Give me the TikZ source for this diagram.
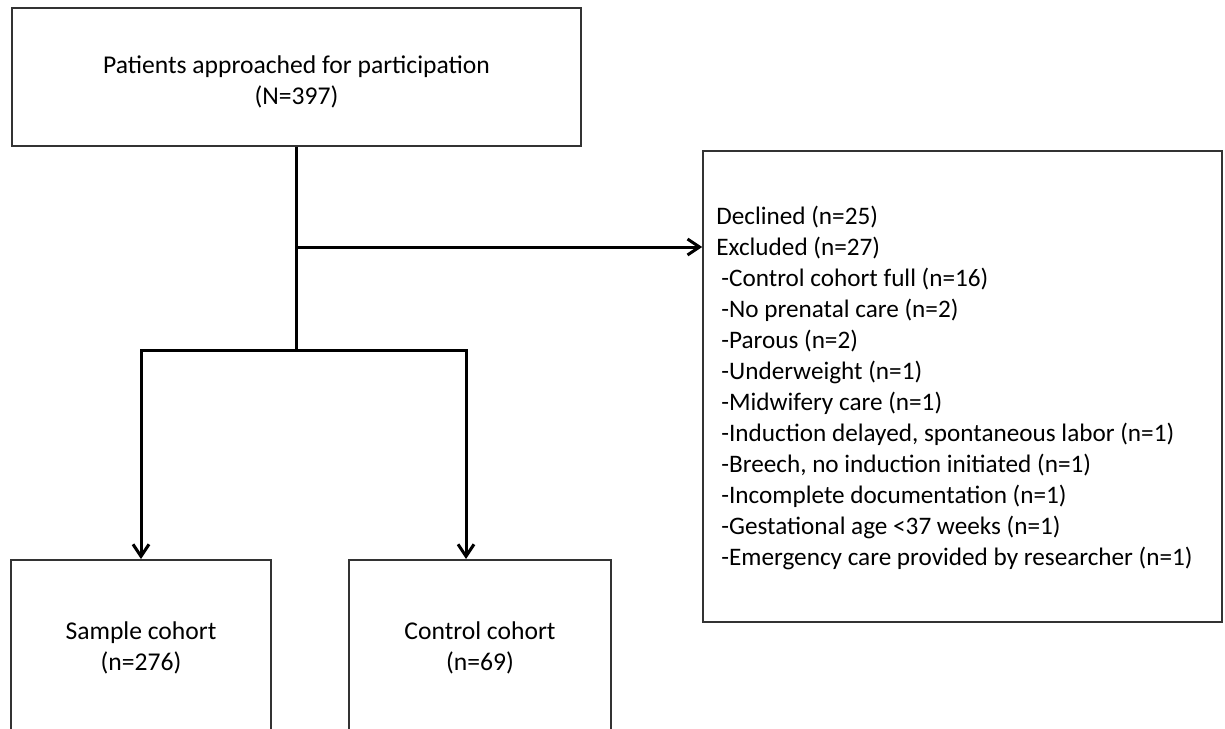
\documentclass[tikz,border=0pt]{standalone}
\usepackage{fontspec}
\setmainfont{Carlito}
\usetikzlibrary{arrows.meta,positioning,calc}
\tikzset{>={Straight Barb[length=6pt,width=8pt]}}
\tikzset{box/.style={draw=black!80, line width=0.8pt, inner sep=0pt}}
\tikzset{txt/.style={align=center, inner sep=0pt,
    font=\fontsize{12.8}{15.2}\selectfont}}
\tikzset{flow/.style={->, line width=1.5pt}}

\begin{document}
\begin{tikzpicture}[x=0.5pt,y=-0.5pt]
  \clip (0,0) rectangle (1225,728);
  % boxes
  \node[box, minimum width=284.5pt, minimum height=69pt] (approached)
    at (296.5,77) {};
  \node[box, minimum width=259.5pt, minimum height=235.5pt] (excluded)
    at (962.5,386.5) {};
  \node[box, minimum width=130pt, minimum height=89pt, anchor=north] (sample)
    at (141,559) {};
  \node[box, minimum width=131pt, minimum height=89pt, anchor=north] (control)
    at (480,559) {};
  % texts
  \node[txt] (approachedtext) at (296.5,82)
    {Patients approached for participation\\(N=397)};
  \node[txt, align=flush left, anchor=west, font=\fontsize{12.6}{15.5}\selectfont]
    (excludedtext) at (716,388)
    {Declined (n=25)\\
     Excluded (n=27)\\
     \hspace{2.5pt}-Control cohort full (n=16)\\
     \hspace{2.5pt}-No prenatal care (n=2)\\
     \hspace{2.5pt}-Parous (n=2)\\
     \hspace{2.5pt}-Underweight (n=1)\\
     \hspace{2.5pt}-Midwifery care (n=1)\\
     \hspace{2.5pt}-Induction delayed, spontaneous labor (n=1)\\
     \hspace{2.5pt}-Breech, no induction initiated (n=1)\\
     \hspace{2.5pt}-Incomplete documentation (n=1)\\
     \hspace{2.5pt}-Gestational age <37 weeks (n=1)\\
     \hspace{2.5pt}-Emergency care provided by researcher (n=1)};
  \node[txt] (sampletext) at (141,648) {Sample cohort\\(n=276)};
  \node[txt] (controltext) at (480,648) {Control cohort\\(n=69)};

  % trunk and branches
  \coordinate (turn) at (296.5,247);
  \coordinate (split) at (296.5,350);
  \draw[line width=1.5pt] (approached.south) -- (split);
  \draw[flow] (turn) -- (turn -| excluded.west);
  \draw[flow] (split) -| (sample.north);
  \draw[flow] (split) -| ([xshift=-7pt]control.north);
\end{tikzpicture}
\end{document}
